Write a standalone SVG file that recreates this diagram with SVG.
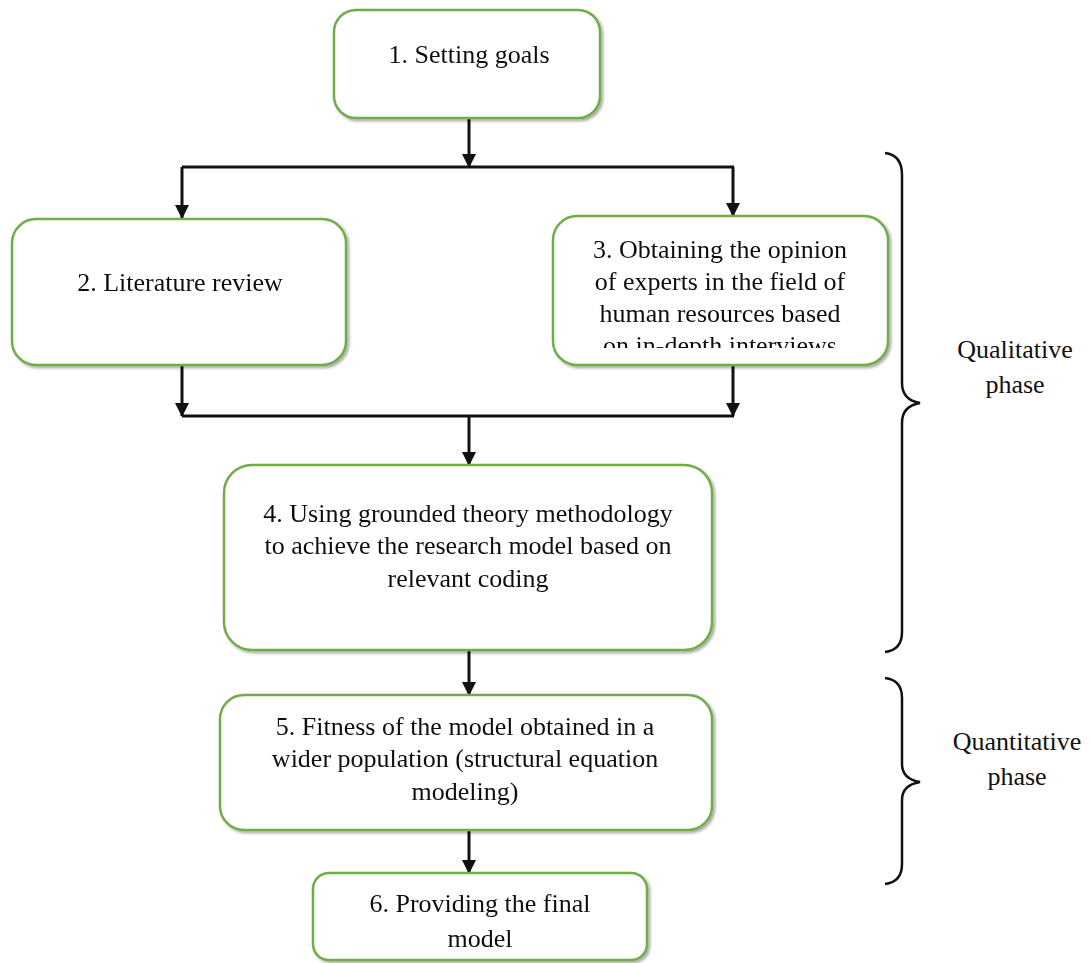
<svg xmlns="http://www.w3.org/2000/svg" width="1091" height="963" viewBox="0 0 1091 963">
  <style>
    .box { fill: #ffffff; stroke: #70AD47; stroke-width: 2.5; }
    .lbl { font-family: "Liberation Serif", "Times New Roman", serif; font-size: 26px; fill: #111111; text-anchor: middle; }
    .wire { fill: none; stroke: #111111; stroke-width: 3; }
    .brace { fill: none; stroke: #111111; stroke-width: 2.5; }
  </style>
  <defs>
    <marker id="arrow" markerUnits="userSpaceOnUse" markerWidth="14" markerHeight="14" viewBox="0 0 14 14" refX="13" refY="7" orient="auto">
      <path d="M0,0 L14,7 L0,14 z" fill="#111111"/>
    </marker>
    <filter id="shadow" x="-5%" y="-5%" width="112%" height="115%">
      <feGaussianBlur in="SourceAlpha" stdDeviation="1.5"/>
      <feOffset dx="1.5" dy="2" result="off"/>
      <feComponentTransfer><feFuncA type="linear" slope="0.35"/></feComponentTransfer>
      <feMerge><feMergeNode/><feMergeNode in="SourceGraphic"/></feMerge>
    </filter>
    <clipPath id="clip3">
      <rect x="553" y="216" width="335" height="132"/>
    </clipPath>
  </defs>

  <!-- connectors -->
  <g id="connectors">
    <line class="wire" x1="469" y1="118" x2="469" y2="167" marker-end="url(#arrow)"/>
    <line class="wire" x1="182" y1="167" x2="734" y2="167"/>
    <line class="wire" x1="182" y1="167" x2="182" y2="218" marker-end="url(#arrow)"/>
    <line class="wire" x1="733" y1="167" x2="733" y2="216" marker-end="url(#arrow)"/>
    <line class="wire" x1="182" y1="365" x2="182" y2="416" marker-end="url(#arrow)"/>
    <line class="wire" x1="733" y1="365" x2="733" y2="416" marker-end="url(#arrow)"/>
    <line class="wire" x1="182" y1="416" x2="734" y2="416"/>
    <line class="wire" x1="469" y1="416" x2="469" y2="465" marker-end="url(#arrow)"/>
    <line class="wire" x1="469" y1="650" x2="469" y2="695" marker-end="url(#arrow)"/>
    <line class="wire" x1="469" y1="830" x2="469" y2="873" marker-end="url(#arrow)"/>
  </g>

  <g id="node1" filter="url(#shadow)">
    <rect class="box" x="334" y="10" width="266" height="108" rx="22"/>
    <text class="lbl" x="469" y="63">1. Setting goals</text>
  </g>

  <g id="node2" filter="url(#shadow)">
    <rect class="box" x="12" y="219" width="334" height="146" rx="24"/>
    <text class="lbl" x="180" y="291">2. Literature review</text>
  </g>

  <g id="node3" filter="url(#shadow)">
    <rect class="box" x="553" y="216" width="335" height="149" rx="24"/>
    <g clip-path="url(#clip3)">
      <text class="lbl" x="720" y="258">3. Obtaining the opinion</text>
      <text class="lbl" x="720" y="290">of experts in the field of</text>
      <text class="lbl" x="720" y="322">human resources based</text>
      <text class="lbl" x="720" y="354">on in-depth interviews</text>
    </g>
  </g>

  <g id="node4" filter="url(#shadow)">
    <rect class="box" x="224" y="465" width="488" height="185" rx="28"/>
    <text class="lbl" x="468" y="522">4. Using grounded theory methodology</text>
    <text class="lbl" x="468" y="554">to achieve the research model based on</text>
    <text class="lbl" x="468" y="587">relevant coding</text>
  </g>

  <g id="node5" filter="url(#shadow)">
    <rect class="box" x="220" y="695" width="492" height="135" rx="24"/>
    <text class="lbl" x="465" y="735">5. Fitness of the model obtained in a</text>
    <text class="lbl" x="465" y="767">wider population (structural equation</text>
    <text class="lbl" x="465" y="800">modeling)</text>
  </g>

  <g id="node6" filter="url(#shadow)">
    <rect class="box" x="313" y="873" width="334" height="87" rx="16"/>
    <text class="lbl" x="480" y="912">6. Providing the final</text>
    <text class="lbl" x="480" y="947">model</text>
  </g>

  <!-- phase braces -->
  <g id="phase-qualitative">
    <path class="brace" d="M885,153 Q902,155 902,175 L902,383 Q902,400 920,403 Q902,406 902,423 L902,632 Q902,650 885,652"/>
    <text class="lbl" x="1015" y="358">Qualitative</text>
    <text class="lbl" x="1015" y="393">phase</text>
  </g>
  <g id="phase-quantitative">
    <path class="brace" d="M885,678 Q902,680 902,698 L902,764 Q902,779 920,782 Q902,785 902,800 L902,864 Q902,882 885,884"/>
    <text class="lbl" x="1017" y="750">Quantitative</text>
    <text class="lbl" x="1017" y="785">phase</text>
  </g>
</svg>
